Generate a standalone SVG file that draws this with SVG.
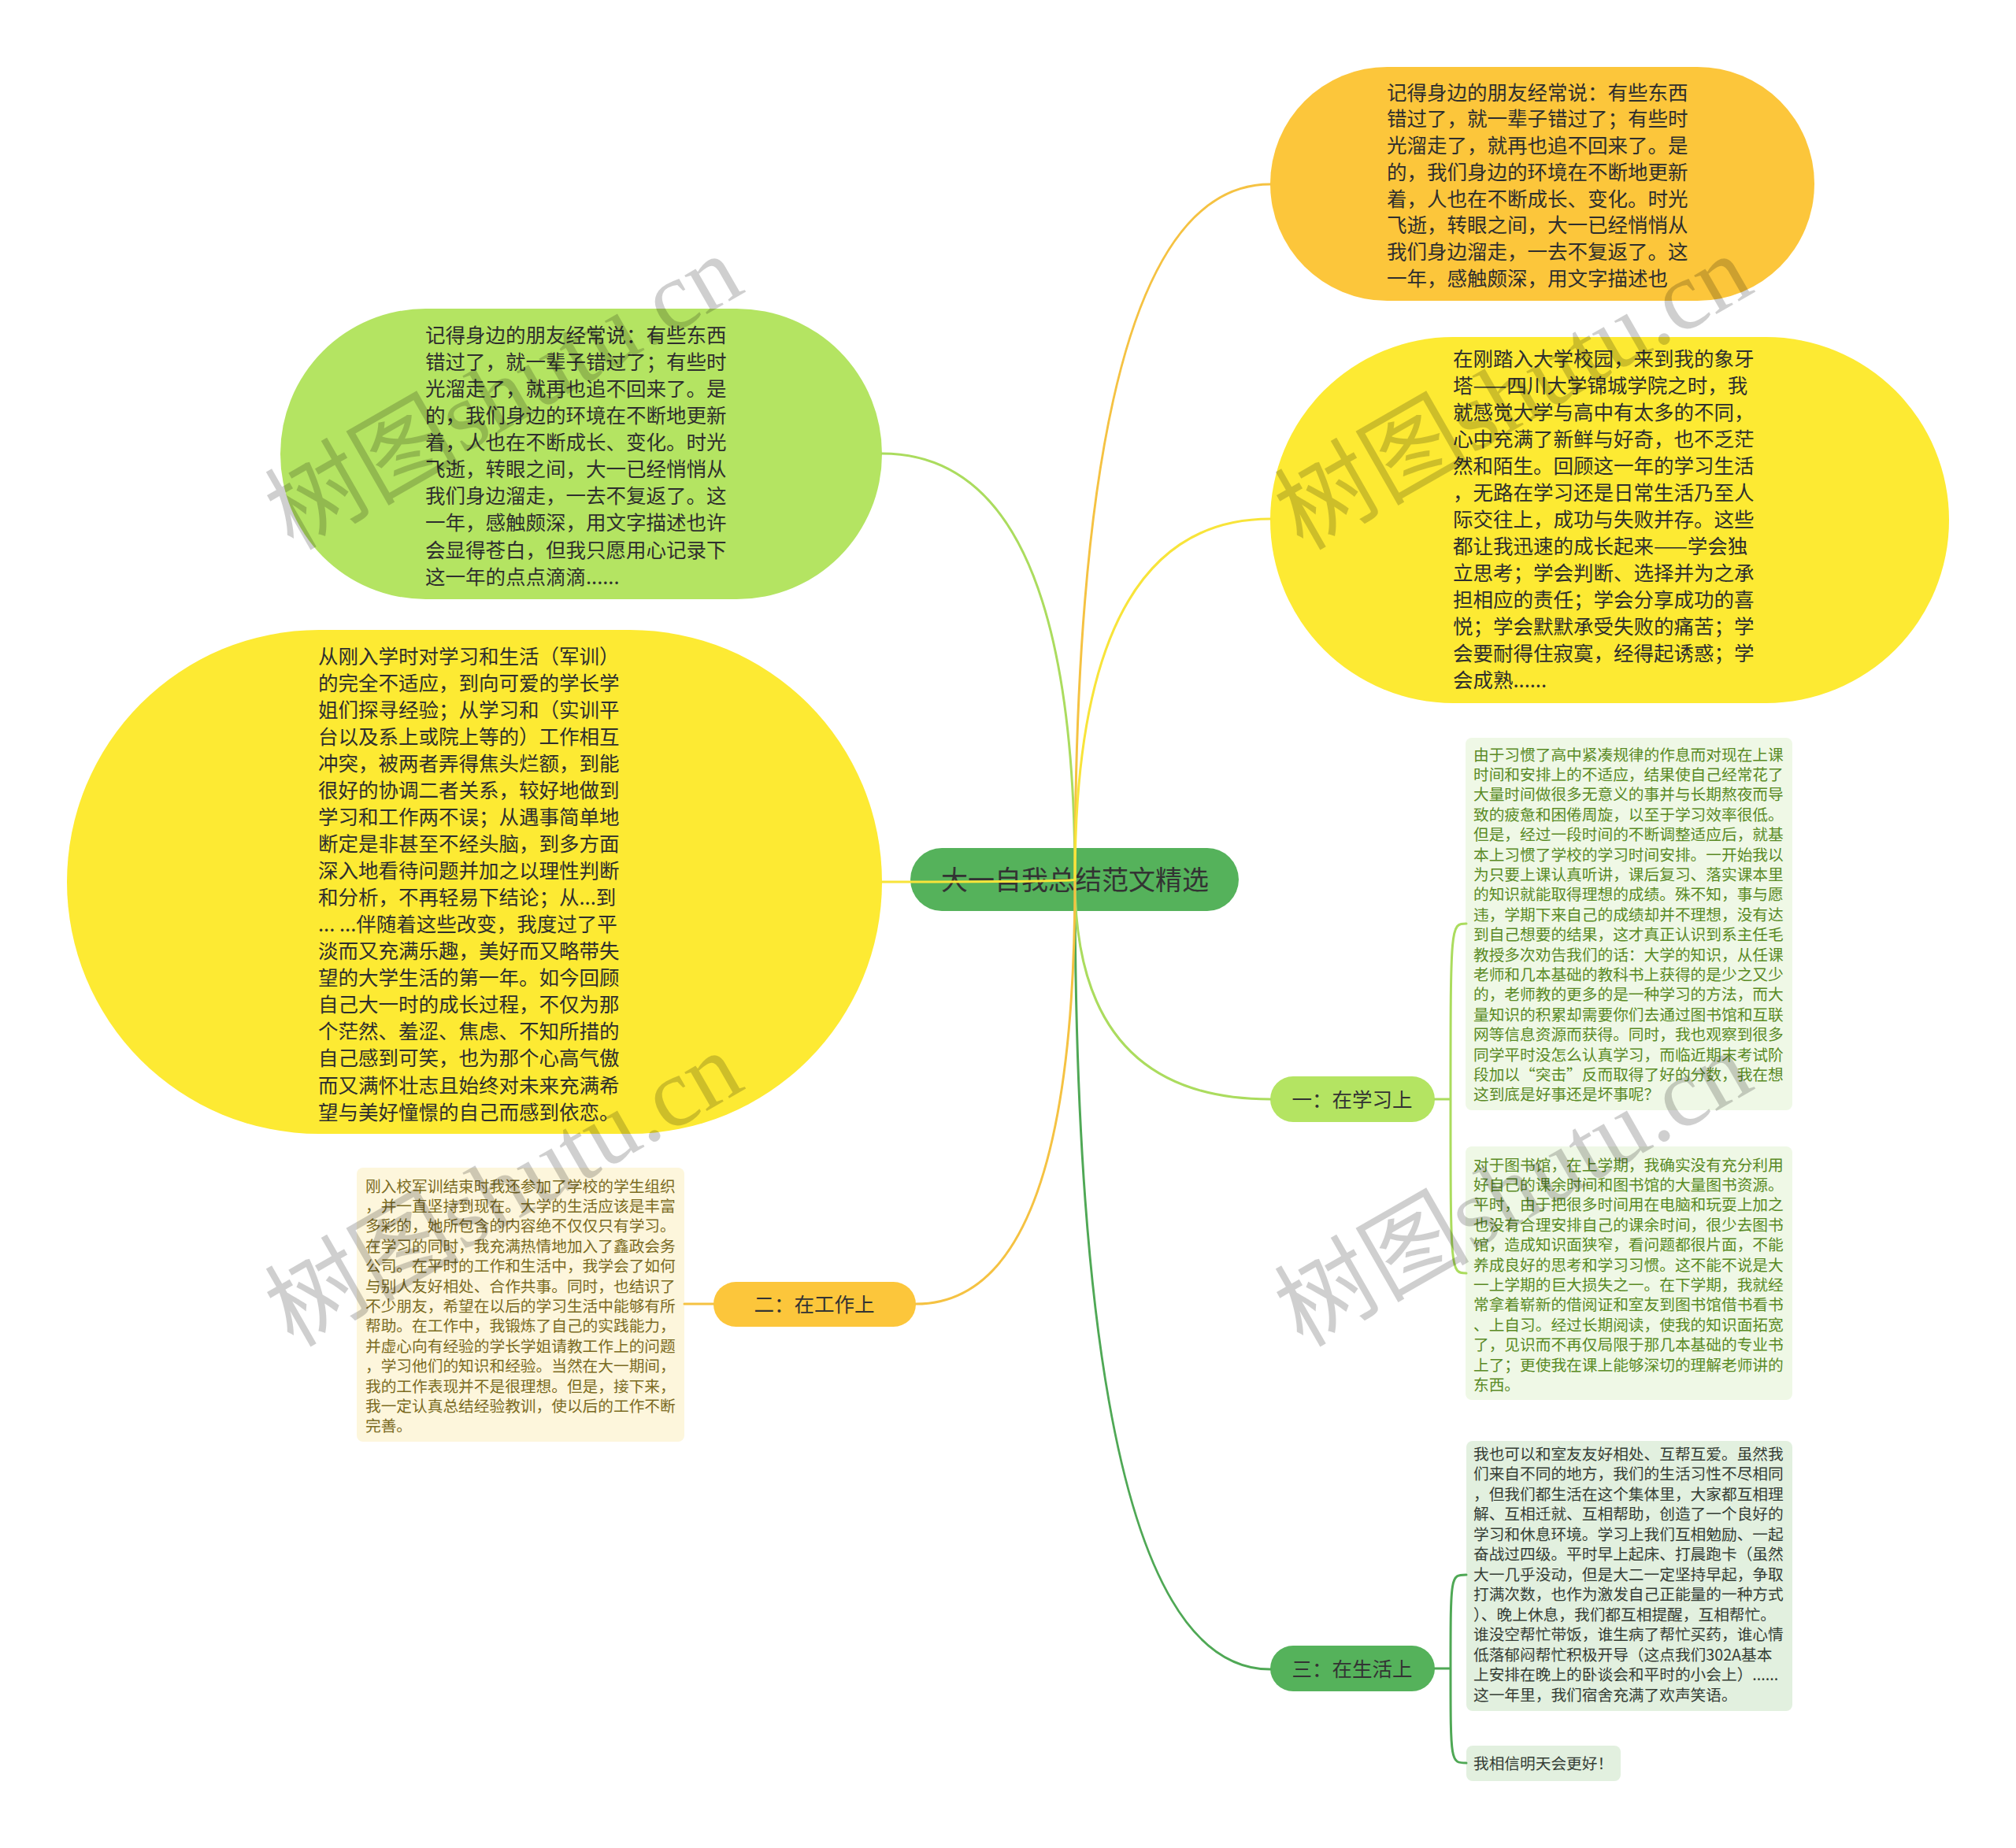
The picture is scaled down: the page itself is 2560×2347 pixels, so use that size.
<svg xmlns="http://www.w3.org/2000/svg" width="2560" height="2347" viewBox="0 0 2560 2347">
<style>
.t{font-family:"Noto Sans CJK SC","Noto Sans",sans-serif;}
.big{font-size:25.5px;fill:#2e2e2e;}
.sm{font-size:19.7px;}
.lbl{font-size:25.5px;fill:#333;text-anchor:middle;}
.c{fill:none;stroke-width:3;stroke-linecap:round;}
.wm{font-family:"Liberation Serif","Noto Sans CJK SC",serif;font-size:124px;fill:#000;fill-opacity:0.19;}
</style>
<rect width="2560" height="2347" fill="#ffffff"/>

<g id="node-orange">
<rect x="1613" y="85" width="691" height="297" rx="148.5" fill="#fcc63b"/>
<text class="t big" x="1761" y="126.7">
<tspan x="1761">记得身边的朋友经常说：有些东西</tspan>
<tspan x="1761" dy="33.7">错过了，就一辈子错过了；有些时</tspan>
<tspan x="1761" dy="33.7">光溜走了，就再也追不回来了。是</tspan>
<tspan x="1761" dy="33.7">的，我们身边的环境在不断地更新</tspan>
<tspan x="1761" dy="33.7">着，人也在不断成长、变化。时光</tspan>
<tspan x="1761" dy="33.7">飞逝，转眼之间，大一已经悄悄从</tspan>
<tspan x="1761" dy="33.7">我们身边溜走，一去不复返了。这</tspan>
<tspan x="1761" dy="33.7">一年，感触颇深，用文字描述也</tspan>
</text>
</g>

<g id="node-yellow-right">
<rect x="1613" y="428" width="862" height="465" rx="232.5" fill="#fdea33"/>
<text class="t big" x="1845" y="464.7">
<tspan x="1845">在刚踏入大学校园，来到我的象牙</tspan>
<tspan x="1845" dy="34">塔——四川大学锦城学院之时，我</tspan>
<tspan x="1845" dy="34">就感觉大学与高中有太多的不同，</tspan>
<tspan x="1845" dy="34">心中充满了新鲜与好奇，也不乏茫</tspan>
<tspan x="1845" dy="34">然和陌生。回顾这一年的学习生活</tspan>
<tspan x="1845" dy="34">，无路在学习还是日常生活乃至人</tspan>
<tspan x="1845" dy="34">际交往上，成功与失败并存。这些</tspan>
<tspan x="1845" dy="34">都让我迅速的成长起来——学会独</tspan>
<tspan x="1845" dy="34">立思考；学会判断、选择并为之承</tspan>
<tspan x="1845" dy="34">担相应的责任；学会分享成功的喜</tspan>
<tspan x="1845" dy="34">悦；学会默默承受失败的痛苦；学</tspan>
<tspan x="1845" dy="34">会要耐得住寂寞，经得起诱惑；学</tspan>
<tspan x="1845" dy="34">会成熟......</tspan>
</text>
</g>

<g id="node-green-left">
<rect x="356" y="392" width="764" height="369" rx="184.5" fill="#b4e462"/>
<text class="t big" x="540" y="434.7">
<tspan x="540">记得身边的朋友经常说：有些东西</tspan>
<tspan x="540" dy="34.1">错过了，就一辈子错过了；有些时</tspan>
<tspan x="540" dy="34.1">光溜走了，就再也追不回来了。是</tspan>
<tspan x="540" dy="34.1">的，我们身边的环境在不断地更新</tspan>
<tspan x="540" dy="34.1">着，人也在不断成长、变化。时光</tspan>
<tspan x="540" dy="34.1">飞逝，转眼之间，大一已经悄悄从</tspan>
<tspan x="540" dy="34.1">我们身边溜走，一去不复返了。这</tspan>
<tspan x="540" dy="34.1">一年，感触颇深，用文字描述也许</tspan>
<tspan x="540" dy="34.1">会显得苍白，但我只愿用心记录下</tspan>
<tspan x="540" dy="34.1">这一年的点点滴滴......</tspan>
</text>
</g>

<g id="node-yellow-left">
<rect x="85" y="800" width="1035" height="640" rx="320" fill="#fdea33"/>
<text class="t big" x="404" y="842.7">
<tspan x="404">从刚入学时对学习和生活（军训）</tspan>
<tspan x="404" dy="34.05">的完全不适应，到向可爱的学长学</tspan>
<tspan x="404" dy="34.05">姐们探寻经验；从学习和（实训平</tspan>
<tspan x="404" dy="34.05">台以及系上或院上等的）工作相互</tspan>
<tspan x="404" dy="34.05">冲突，被两者弄得焦头烂额，到能</tspan>
<tspan x="404" dy="34.05">很好的协调二者关系，较好地做到</tspan>
<tspan x="404" dy="34.05">学习和工作两不误；从遇事简单地</tspan>
<tspan x="404" dy="34.05">断定是非甚至不经头脑，到多方面</tspan>
<tspan x="404" dy="34.05">深入地看待问题并加之以理性判断</tspan>
<tspan x="404" dy="34.05">和分析，不再轻易下结论；从...到</tspan>
<tspan x="404" dy="34.05">... ...伴随着这些改变，我度过了平</tspan>
<tspan x="404" dy="34.05">淡而又充满乐趣，美好而又略带失</tspan>
<tspan x="404" dy="34.05">望的大学生活的第一年。如今回顾</tspan>
<tspan x="404" dy="34.05">自己大一时的成长过程，不仅为那</tspan>
<tspan x="404" dy="34.05">个茫然、羞涩、焦虑、不知所措的</tspan>
<tspan x="404" dy="34.05">自己感到可笑，也为那个心高气傲</tspan>
<tspan x="404" dy="34.05">而又满怀壮志且始终对未来充满希</tspan>
<tspan x="404" dy="34.05">望与美好憧憬的自己而感到依恋。</tspan>
</text>
</g>

<g id="node-work-detail">
<rect x="453" y="1483" width="416" height="348" rx="8" fill="#fdf6dc"/>
<text class="t sm" x="464" y="1513.5" fill="#7b6b22">
<tspan x="464">刚入校军训结束时我还参加了学校的学生组织</tspan>
<tspan x="464" dy="25.4">，并一直坚持到现在。大学的生活应该是丰富</tspan>
<tspan x="464" dy="25.4">多彩的，她所包含的内容绝不仅仅只有学习。</tspan>
<tspan x="464" dy="25.4">在学习的同时，我充满热情地加入了鑫政会务</tspan>
<tspan x="464" dy="25.4">公司。在平时的工作和生活中，我学会了如何</tspan>
<tspan x="464" dy="25.4">与别人友好相处、合作共事。同时，也结识了</tspan>
<tspan x="464" dy="25.4">不少朋友，希望在以后的学习生活中能够有所</tspan>
<tspan x="464" dy="25.4">帮助。在工作中，我锻炼了自己的实践能力，</tspan>
<tspan x="464" dy="25.4">并虚心向有经验的学长学姐请教工作上的问题</tspan>
<tspan x="464" dy="25.4">，学习他们的知识和经验。当然在大一期间，</tspan>
<tspan x="464" dy="25.4">我的工作表现并不是很理想。但是，接下来，</tspan>
<tspan x="464" dy="25.4">我一定认真总结经验教训，使以后的工作不断</tspan>
<tspan x="464" dy="25.4">完善。</tspan>
</text>
</g>

<g id="node-study-detail-1">
<rect x="1861" y="937" width="415" height="473" rx="8" fill="#eff8e6"/>
<text class="t sm" x="1871" y="965.5" fill="#5a8a25">
<tspan x="1871">由于习惯了高中紧凑规律的作息而对现在上课</tspan>
<tspan x="1871" dy="25.4">时间和安排上的不适应，结果使自己经常花了</tspan>
<tspan x="1871" dy="25.4">大量时间做很多无意义的事并与长期熬夜而导</tspan>
<tspan x="1871" dy="25.4">致的疲惫和困倦周旋，以至于学习效率很低。</tspan>
<tspan x="1871" dy="25.4">但是，经过一段时间的不断调整适应后，就基</tspan>
<tspan x="1871" dy="25.4">本上习惯了学校的学习时间安排。一开始我以</tspan>
<tspan x="1871" dy="25.4">为只要上课认真听讲，课后复习、落实课本里</tspan>
<tspan x="1871" dy="25.4">的知识就能取得理想的成绩。殊不知，事与愿</tspan>
<tspan x="1871" dy="25.4">违，学期下来自己的成绩却并不理想，没有达</tspan>
<tspan x="1871" dy="25.4">到自己想要的结果，这才真正认识到系主任毛</tspan>
<tspan x="1871" dy="25.4">教授多次劝告我们的话：大学的知识，从任课</tspan>
<tspan x="1871" dy="25.4">老师和几本基础的教科书上获得的是少之又少</tspan>
<tspan x="1871" dy="25.4">的，老师教的更多的是一种学习的方法，而大</tspan>
<tspan x="1871" dy="25.4">量知识的积累却需要你们去通过图书馆和互联</tspan>
<tspan x="1871" dy="25.4">网等信息资源而获得。同时，我也观察到很多</tspan>
<tspan x="1871" dy="25.4">同学平时没怎么认真学习，而临近期末考试阶</tspan>
<tspan x="1871" dy="25.4">段加以“突击”反而取得了好的分数，我在想</tspan>
<tspan x="1871" dy="25.4">这到底是好事还是坏事呢？</tspan>
</text>
</g>

<g id="node-study-detail-2">
<rect x="1861" y="1456" width="415" height="322" rx="8" fill="#eff8e6"/>
<text class="t sm" x="1871" y="1486.5" fill="#5a8a25">
<tspan x="1871">对于图书馆，在上学期，我确实没有充分利用</tspan>
<tspan x="1871" dy="25.4">好自己的课余时间和图书馆的大量图书资源。</tspan>
<tspan x="1871" dy="25.4">平时，由于把很多时间用在电脑和玩耍上加之</tspan>
<tspan x="1871" dy="25.4">也没有合理安排自己的课余时间，很少去图书</tspan>
<tspan x="1871" dy="25.4">馆，造成知识面狭窄，看问题都很片面，不能</tspan>
<tspan x="1871" dy="25.4">养成良好的思考和学习习惯。这不能不说是大</tspan>
<tspan x="1871" dy="25.4">一上学期的巨大损失之一。在下学期，我就经</tspan>
<tspan x="1871" dy="25.4">常拿着崭新的借阅证和室友到图书馆借书看书</tspan>
<tspan x="1871" dy="25.4">、上自习。经过长期阅读，使我的知识面拓宽</tspan>
<tspan x="1871" dy="25.4">了，见识而不再仅局限于那几本基础的专业书</tspan>
<tspan x="1871" dy="25.4">上了；更使我在课上能够深切的理解老师讲的</tspan>
<tspan x="1871" dy="25.4">东西。</tspan>
</text>
</g>

<g id="node-life-detail-1">
<rect x="1862" y="1830" width="414" height="343" rx="8" fill="#e2f0df"/>
<text class="t sm" x="1871" y="1853.5" fill="#353d35">
<tspan x="1871">我也可以和室友友好相处、互帮互爱。虽然我</tspan>
<tspan x="1871" dy="25.5">们来自不同的地方，我们的生活习性不尽相同</tspan>
<tspan x="1871" dy="25.5">，但我们都生活在这个集体里，大家都互相理</tspan>
<tspan x="1871" dy="25.5">解、互相迁就、互相帮助，创造了一个良好的</tspan>
<tspan x="1871" dy="25.5">学习和休息环境。学习上我们互相勉励、一起</tspan>
<tspan x="1871" dy="25.5">奋战过四级。平时早上起床、打晨跑卡（虽然</tspan>
<tspan x="1871" dy="25.5">大一几乎没动，但是大二一定坚持早起，争取</tspan>
<tspan x="1871" dy="25.5">打满次数，也作为激发自己正能量的一种方式</tspan>
<tspan x="1871" dy="25.5">）、晚上休息，我们都互相提醒，互相帮忙。</tspan>
<tspan x="1871" dy="25.5">谁没空帮忙带饭，谁生病了帮忙买药，谁心情</tspan>
<tspan x="1871" dy="25.5">低落郁闷帮忙积极开导（这点我们302A基本</tspan>
<tspan x="1871" dy="25.5">上安排在晚上的卧谈会和平时的小会上）......</tspan>
<tspan x="1871" dy="25.5">这一年里，我们宿舍充满了欢声笑语。</tspan>
</text>
</g>

<g id="node-life-detail-2">
<rect x="1862" y="2217" width="196" height="45" rx="8" fill="#e2f0df"/>
<text class="t sm" x="1871" y="2246.5" fill="#353d35">我相信明天会更好！</text>
</g>

<g id="node-center">
<rect x="1156" y="1077" width="417" height="80" rx="40" fill="#55b25b"/>
<text class="t" x="1365" y="1130" font-size="34" fill="#333" text-anchor="middle">大一自我总结范文精选</text>
</g>

<g id="node-study">
<rect x="1613" y="1367" width="209" height="58" rx="29" fill="#b4e462"/>
<text class="t lbl" x="1717" y="1405.7">一：在学习上</text>
</g>

<g id="node-work">
<rect x="906" y="1628" width="257" height="57" rx="28.5" fill="#fcc63b"/>
<text class="t lbl" x="1034" y="1666.2">二：在工作上</text>
</g>

<g id="node-life">
<rect x="1613" y="2090" width="209" height="58" rx="29" fill="#55b25b"/>
<text class="t lbl" x="1717" y="2128.7">三：在生活上</text>
</g>

<g id="connectors">
<path class="c" stroke="#4fa855" d="M1365,1117 Q1365,2120 1613,2120"/>
<path class="c" stroke="#abdc5e" d="M1365,1117 Q1365,1396 1613,1396"/>
<path class="c" stroke="#f5c242" d="M1365,1117 Q1365,1656 1163,1656"/>
<path class="c" stroke="#abdc5e" d="M1365,1117 Q1365,576 1120,576"/>
<path class="c" stroke="#f5c242" d="M1365,1117 Q1365,234 1613,234"/>
<path class="c" stroke="#f8e43a" d="M1365,1117 Q1365,659 1613,659"/>
<path class="c" stroke="#f8e43a" d="M1365,1117 Q1365,1120 1120,1120"/>
<path class="c" stroke="#f5c242" d="M906,1656 L869,1656"/>
<path class="c" stroke="#abdc5e" d="M1822,1396 H1842 M1842,1396 C1842,1173 1842,1173 1862,1173 M1842,1396 C1842,1617 1842,1617 1862,1617"/>
<path class="c" stroke="#4fa855" d="M1822,2119 H1842 M1842,2119 C1842,2000 1842,2000 1862,2000 M1842,2119 C1842,2239 1842,2239 1862,2239"/>
</g>

<g id="watermarks" class="wm">
<text transform="translate(372,700) rotate(-29.8)">树图shutu.cn</text>
<text transform="translate(1654,700) rotate(-29.8)">树图shutu.cn</text>
<text transform="translate(372,1712) rotate(-29.8)">树图shutu.cn</text>
<text transform="translate(1654,1712) rotate(-29.8)">树图shutu.cn</text>
<text transform="translate(372,2724) rotate(-29.8)">树图shutu.cn</text>
<text transform="translate(1654,2724) rotate(-29.8)">树图shutu.cn</text>
</g>
</svg>
